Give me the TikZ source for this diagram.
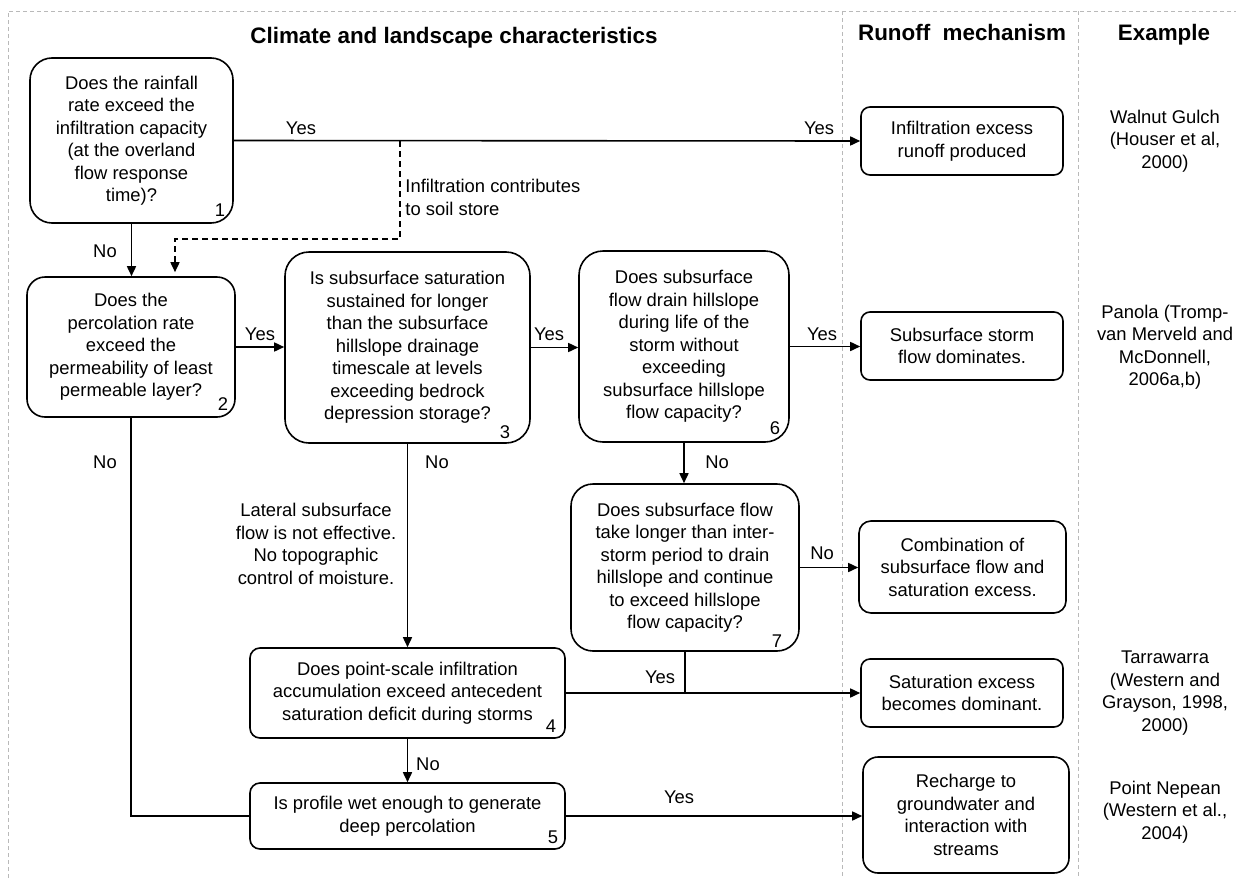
\documentclass[tikz,border=0pt]{standalone}
\usepackage{fontspec}
\setmainfont{Liberation Sans}
\usepackage{tikz}
\usetikzlibrary{arrows.meta}
\tikzset{
	txt/.style={align=center, inner sep=0pt, font=\fontsize{9.2}{11.25}\selectfont},
	qbox/.style={txt, draw, line width=0.8pt}, % question boxes, corner radius set per box
	rbox/.style={qbox, rounded corners=4.5pt}, % runoff mechanism boxes
	num/.style={txt},
	head/.style={inner sep=0pt, anchor=base, font=\bfseries\fontsize{11.2}{13}\selectfont},
	link/.style={line width=0.8pt},
	flow/.style={link, -{Triangle[length=5pt,width=4.5pt]}},
	frame/.style={gray!55, line width=0.4pt, dash pattern=on 2pt off 1.5pt},
}

\begin{document}
\begin{tikzpicture}[x=0.5pt,y=-0.5pt]
	\useasboundingbox (0,0) rectangle (1236,878);
	
	% column borders
	\def\colA{842}
	\def\colB{1078}
	\draw[frame] (8,878) -- (8,11) -- (1236,11);
	\draw[frame] (\colA,11) -- (\colA,878);
	\draw[frame] (\colB,11) -- (\colB,878);
	
	% headings
	\node[head] (hclim) at (454,43) {Climate and landscape characteristics};
	\node[head] (hrun) at (962,40) {Runoff\ \ mechanism};
	\node[head] (hex) at (1164,40) {Example};
	
	% questions
	\node[qbox, rounded corners=11pt, minimum width=101.5pt, minimum height=82.5pt] (q1) at (131.5,140.5)
		{Does the rainfall\\rate exceed the\\infiltration capacity\\(at the overland\\flow response\\time)?};
	\node[qbox, rounded corners=9pt, minimum width=104pt, minimum height=70pt] (q2) at (131,347)
		{Does the\\percolation rate\\exceed the\\permeability of least\\permeable layer?};
	\node[qbox, rounded corners=12pt, minimum width=122.5pt, minimum height=95.5pt] (q3) at (407.5,347.5)
		{Is subsurface saturation\\sustained for longer\\than the subsurface\\hillslope drainage\\timescale at levels\\exceeding bedrock\\depression storage?};
	\node[qbox, rounded corners=12pt, minimum width=105pt, minimum height=95.5pt] (q6) at (684,346.5)
		{Does subsurface\\flow drain hillslope\\during life of the\\storm without\\exceeding\\subsurface hillslope\\flow capacity?};
	\node[qbox, rounded corners=11pt, minimum width=114pt, minimum height=83.5pt] (q7) at (685,567.5)
		{Does subsurface flow\\take longer than inter-\\storm period to drain\\hillslope and continue\\to exceed hillslope\\flow capacity?};
	\node[qbox, rounded corners=5pt, minimum width=157.5pt, minimum height=45pt] (q4) at (407.5,693)
		{Does point-scale infiltration\\accumulation exceed antecedent\\saturation deficit during storms};
	\node[qbox, rounded corners=5pt, minimum width=157.5pt, minimum height=33pt] (q5) at (407.5,816)
		{Is profile wet enough to generate\\deep percolation};
	
	% box numbers
	\node[num] (n1) at (220,210) {1};
	\node[num] (n2) at (223,404) {2};
	\node[num] (n3) at (505,432) {3};
	\node[num] (n6) at (775,428) {6};
	\node[num] (n7) at (777,641) {7};
	\node[num] (n4) at (551,726) {4};
	\node[num] (n5) at (553,837) {5};
	
	% runoff mechanisms
	\node[rbox, minimum width=101pt, minimum height=34pt] (r1) at (962,141) {Infiltration excess\\runoff produced};
	\node[rbox, minimum width=101pt, minimum height=34pt] (r2) at (962,346) {Subsurface storm\\flow dominates.};
	\node[rbox, rounded corners=6pt, minimum width=103.5pt, minimum height=46pt] (r3) at (962.5,567) {Combination of\\subsurface flow and\\saturation excess.};
	\node[rbox, minimum width=101pt, minimum height=34pt] (r4) at (962,693) {Saturation excess\\becomes dominant.};
	\node[rbox, rounded corners=7.5pt, minimum width=103pt, minimum height=58pt] (r5) at (966,815) {Recharge to\\groundwater and\\interaction with\\streams};
	
	% examples
	\node[txt] (e1) at (1165,141) {Walnut Gulch\\(Houser et al,\\2000)};
	\node[txt] (e2) at (1165,347) {Panola (Tromp-\\van Merveld and\\McDonnell,\\2006a,b)};
	\node[txt] (e3) at (1165,693) {Tarrawarra\\(Western and\\Grayson, 1998,\\2000)};
	\node[txt] (e4) at (1165,812) {Point Nepean\\(Western et al.,\\2004)};
	
	% connectors
	\draw[flow] (q1.east) -- (r1.west);
	\coordinate (dsplit) at (400,141);
	\coordinate (dturn) at (175,239);
	\draw[flow, dash pattern=on 3pt off 2pt] (dsplit) |- (dturn) -- ([yshift=2pt]dturn |- q2.north);
	\draw[flow] (q1.south) -- (q1.south |- q2.north);
	\draw[flow] (q2.east) -- (q2.east -| q3.west);
	\draw[flow] (q3.east) -- (q3.east -| q6.west);
	\draw[flow] (q6.east) -- (q6.east -| r2.west);
	\draw[flow] (q6.south) -- (q6.south |- q7.north);
	\draw[flow] (q7.east) -- (q7.east -| r3.west);
	\draw[flow] (q3.south) -- (q3.south |- q4.north);
	\draw[flow] (q4.east) -- (r4.west);
	\draw[link] (q7.south) -- (q7.south |- q4.east);
	\draw[flow] (q4.south) -- (q4.south |- q5.north);
	\draw[link] (q2.south) |- (q5.west);
	\draw[flow] (q5.east) -- (q5.east -| r5.west);
	
	% yes / no labels
	\node[txt] (y1) at (301,128) {Yes};
	\node[txt] (y1b) at (819,128) {Yes};
	\node[txt, anchor=west, align=left] (soil) at (405,197.5) {Infiltration contributes\\to soil store};
	\node[txt] (n12) at (105,251) {No};
	\node[txt] (y23) at (260,334) {Yes};
	\node[txt] (n25) at (105,462) {No};
	\node[txt] (y36) at (549,334) {Yes};
	\node[txt] (n34) at (437,462) {No};
	\node[txt] (lat) at (316,544) {Lateral subsurface\\flow is not effective.\\No topographic\\control of moisture.};
	\node[txt] (y6r) at (822,334) {Yes};
	\node[txt] (n67) at (717,462) {No};
	\node[txt] (n7r) at (822,553) {No};
	\node[txt] (y4r) at (660,677) {Yes};
	\node[txt] (n45) at (428,764) {No};
	\node[txt] (y5r) at (679,797) {Yes};
\end{tikzpicture}
\end{document}
